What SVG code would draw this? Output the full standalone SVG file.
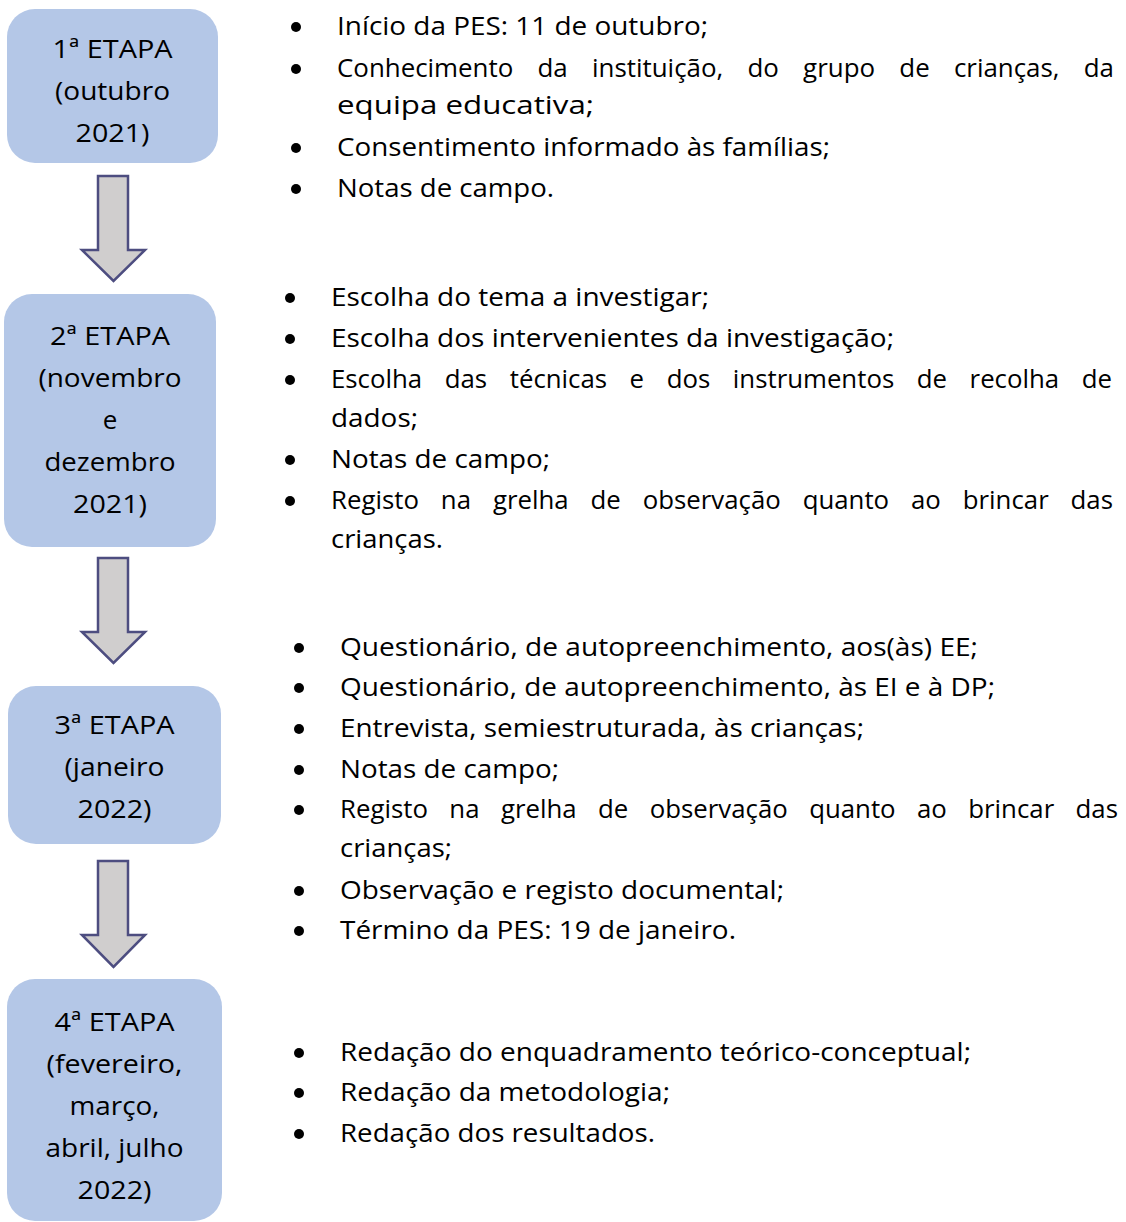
<svg xmlns="http://www.w3.org/2000/svg" width="1126" height="1222" viewBox="0 0 1126 1222">
<style>
  .box { fill: #B4C7E7; }
  .bt { font-family: "Open Sans", "Noto Sans", "Liberation Sans", sans-serif; font-size: 26px; fill: #000; text-anchor: middle; }
  .t { font-family: "Open Sans", "Noto Sans", "Liberation Sans", sans-serif; font-size: 26px; fill: #000; }
  .arrow { fill: #D0CECE; stroke: #4D4D80; stroke-width: 2.5; stroke-linejoin: miter; }
  .dot { fill: #000; }
</style>
<rect width="1126" height="1222" fill="#FFFFFF"/>

<g id="etapa1">
  <rect class="box" x="7" y="9" width="211" height="154" rx="28"/>
  <text class="bt" x="112.5" y="58" textLength="120" lengthAdjust="spacingAndGlyphs">1ª ETAPA</text>
  <text class="bt" x="112.5" y="100" textLength="115" lengthAdjust="spacingAndGlyphs">(outubro</text>
  <text class="bt" x="112.5" y="142" textLength="74" lengthAdjust="spacingAndGlyphs">2021)</text>
</g>

<g id="etapa2">
  <rect class="box" x="4" y="294" width="212" height="253" rx="28"/>
  <text class="bt" x="110" y="345" textLength="120" lengthAdjust="spacingAndGlyphs">2ª ETAPA</text>
  <text class="bt" x="110" y="387" textLength="143" lengthAdjust="spacingAndGlyphs">(novembro</text>
  <text class="bt" x="110" y="429">e</text>
  <text class="bt" x="110" y="471" textLength="131" lengthAdjust="spacingAndGlyphs">dezembro</text>
  <text class="bt" x="110" y="513" textLength="74" lengthAdjust="spacingAndGlyphs">2021)</text>
</g>

<g id="etapa3">
  <rect class="box" x="8" y="686" width="213" height="158" rx="28"/>
  <text class="bt" x="114.5" y="734" textLength="120" lengthAdjust="spacingAndGlyphs">3ª ETAPA</text>
  <text class="bt" x="114.5" y="776" textLength="100" lengthAdjust="spacingAndGlyphs">(janeiro</text>
  <text class="bt" x="114.5" y="818" textLength="74" lengthAdjust="spacingAndGlyphs">2022)</text>
</g>

<g id="etapa4">
  <rect class="box" x="7" y="979" width="215" height="242" rx="28"/>
  <text class="bt" x="114.5" y="1031" textLength="120" lengthAdjust="spacingAndGlyphs">4ª ETAPA</text>
  <text class="bt" x="114.5" y="1073" textLength="136" lengthAdjust="spacingAndGlyphs">(fevereiro,</text>
  <text class="bt" x="114.5" y="1115" textLength="90" lengthAdjust="spacingAndGlyphs">março,</text>
  <text class="bt" x="114.5" y="1157" textLength="138" lengthAdjust="spacingAndGlyphs">abril, julho</text>
  <text class="bt" x="114.5" y="1199" textLength="74" lengthAdjust="spacingAndGlyphs">2022)</text>
</g>

<g id="connectors">
  <path class="arrow" d="M98,176 H128 V250 H145 L113.5,281 L82,250 H98 Z"/>
  <path class="arrow" d="M98,558 H128 V632 H145 L113.5,663 L82,632 H98 Z"/>
  <path class="arrow" d="M98,861 H128 V935 H145 L113.5,967 L82,935 H98 Z"/>
</g>

<g id="lista1">
  <circle class="dot" cx="296" cy="27" r="5"/>
  <circle class="dot" cx="296" cy="69" r="5"/>
  <circle class="dot" cx="296" cy="148" r="5"/>
  <circle class="dot" cx="296" cy="189" r="5"/>
  <text class="t" x="337" y="35" textLength="371" lengthAdjust="spacingAndGlyphs">Início da PES: 11 de outubro;</text>
  <text class="t" x="337" y="77" textLength="777" lengthAdjust="spacingAndGlyphs" word-spacing="17.6">Conhecimento da instituição, do grupo de crianças, da</text>
  <text class="t" x="337" y="114" textLength="257" lengthAdjust="spacingAndGlyphs">equipa educativa;</text>
  <text class="t" x="337" y="156" textLength="493" lengthAdjust="spacingAndGlyphs">Consentimento informado às famílias;</text>
  <text class="t" x="337" y="197" textLength="217" lengthAdjust="spacingAndGlyphs">Notas de campo.</text>
</g>

<g id="lista2">
  <circle class="dot" cx="290" cy="298" r="5"/>
  <circle class="dot" cx="290" cy="339" r="5"/>
  <circle class="dot" cx="290" cy="380" r="5"/>
  <circle class="dot" cx="290" cy="460" r="5"/>
  <circle class="dot" cx="290" cy="501" r="5"/>
  <text class="t" x="331" y="306" textLength="378" lengthAdjust="spacingAndGlyphs">Escolha do tema a investigar;</text>
  <text class="t" x="331" y="347" textLength="563" lengthAdjust="spacingAndGlyphs">Escolha dos intervenientes da investigação;</text>
  <text class="t" x="331" y="388" textLength="781" lengthAdjust="spacingAndGlyphs" word-spacing="16">Escolha das técnicas e dos instrumentos de recolha de</text>
  <text class="t" x="331" y="427" textLength="87" lengthAdjust="spacingAndGlyphs">dados;</text>
  <text class="t" x="331" y="468" textLength="219" lengthAdjust="spacingAndGlyphs">Notas de campo;</text>
  <text class="t" x="331" y="509" textLength="782" lengthAdjust="spacingAndGlyphs" word-spacing="15.3">Registo na grelha de observação quanto ao brincar das</text>
  <text class="t" x="331" y="548" textLength="112" lengthAdjust="spacingAndGlyphs">crianças.</text>
</g>

<g id="lista3">
  <circle class="dot" cx="299" cy="648" r="5"/>
  <circle class="dot" cx="299" cy="688" r="5"/>
  <circle class="dot" cx="299" cy="729" r="5"/>
  <circle class="dot" cx="299" cy="770" r="5"/>
  <circle class="dot" cx="299" cy="810" r="5"/>
  <circle class="dot" cx="299" cy="891" r="5"/>
  <circle class="dot" cx="299" cy="931" r="5"/>
  <text class="t" x="340" y="656" textLength="638" lengthAdjust="spacingAndGlyphs">Questionário, de autopreenchimento, aos(às) EE;</text>
  <text class="t" x="340" y="696" textLength="655" lengthAdjust="spacingAndGlyphs">Questionário, de autopreenchimento, às EI e à DP;</text>
  <text class="t" x="340" y="737" textLength="524" lengthAdjust="spacingAndGlyphs">Entrevista, semiestruturada, às crianças;</text>
  <text class="t" x="340" y="778" textLength="219" lengthAdjust="spacingAndGlyphs">Notas de campo;</text>
  <text class="t" x="340" y="818" textLength="778" lengthAdjust="spacingAndGlyphs" word-spacing="14.8">Registo na grelha de observação quanto ao brincar das</text>
  <text class="t" x="340" y="857" textLength="112" lengthAdjust="spacingAndGlyphs">crianças;</text>
  <text class="t" x="340" y="899" textLength="444" lengthAdjust="spacingAndGlyphs">Observação e registo documental;</text>
  <text class="t" x="340" y="939" textLength="396" lengthAdjust="spacingAndGlyphs">Término da PES: 19 de janeiro.</text>
</g>

<g id="lista4">
  <circle class="dot" cx="299" cy="1053" r="5"/>
  <circle class="dot" cx="299" cy="1093" r="5"/>
  <circle class="dot" cx="299" cy="1134" r="5"/>
  <text class="t" x="340" y="1061" textLength="631" lengthAdjust="spacingAndGlyphs">Redação do enquadramento teórico-conceptual;</text>
  <text class="t" x="340" y="1101" textLength="330" lengthAdjust="spacingAndGlyphs">Redação da metodologia;</text>
  <text class="t" x="340" y="1142" textLength="315" lengthAdjust="spacingAndGlyphs">Redação dos resultados.</text>
</g>
</svg>
